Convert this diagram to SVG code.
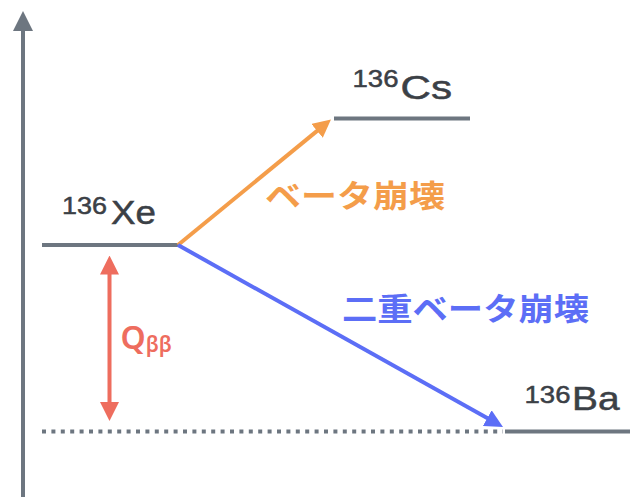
<svg xmlns="http://www.w3.org/2000/svg" width="630" height="497" viewBox="0 0 630 497">
<defs>
<style>
.lvl{stroke:#6d7680;stroke-width:4;fill:none}
.iso{font-family:"Liberation Sans",Arial,sans-serif;fill:#3b4046;stroke:#3b4046;stroke-width:0.5}
.big{font-size:33px}
.sup{font-size:24px}
.jp{font-family:"Noto Sans CJK JP","Noto Sans",sans-serif;font-size:31px;font-weight:600}
</style>
<marker id="hg" markerUnits="userSpaceOnUse" markerWidth="20" markerHeight="20" refX="8" refY="10" orient="auto"><path d="M0,0 L20,10 L0,20 z" fill="#6d7680"/></marker>
<marker id="ho" markerUnits="userSpaceOnUse" markerWidth="18" markerHeight="18" refX="6" refY="9" orient="auto"><path d="M0,0 L18,9 L0,18 z" fill="#f49d4a"/></marker>
<marker id="hb" markerUnits="userSpaceOnUse" markerWidth="18" markerHeight="18" refX="6" refY="9" orient="auto"><path d="M0,0 L18,9 L0,18 z" fill="#5c6ef6"/></marker>
<marker id="hr" markerUnits="userSpaceOnUse" markerWidth="19" markerHeight="19" refX="6" refY="9.5" orient="auto-start-reverse"><path d="M0,0 L19,9.5 L0,19 z" fill="#ee6d5e"/></marker>
</defs>
<g id="axis"><line x1="23" y1="497" x2="23" y2="23" stroke="#6d7680" stroke-width="4" marker-end="url(#hg)"/></g>
<g id="Xe">
<line class="lvl" x1="42" y1="245" x2="178" y2="245"/>
<text class="iso sup" x="62" y="213.5" textLength="45" lengthAdjust="spacingAndGlyphs">136</text>
<text class="iso big" x="111" y="224.3" textLength="45" lengthAdjust="spacingAndGlyphs">Xe</text>
</g>
<g id="Cs">
<line class="lvl" x1="334" y1="118.5" x2="470" y2="118.5"/>
<text class="iso sup" x="352.5" y="87.3" textLength="46" lengthAdjust="spacingAndGlyphs">136</text>
<text class="iso big" x="400.5" y="98.8" textLength="51.5" lengthAdjust="spacingAndGlyphs">Cs</text>
</g>
<g id="Ba">
<line class="lvl" x1="505" y1="431.5" x2="630" y2="431.5"/>
<line x1="42" y1="431.5" x2="503" y2="431.5" stroke="#6d7680" stroke-width="4" stroke-dasharray="4 5.4"/>
<text class="iso sup" x="524.5" y="402.5" textLength="46" lengthAdjust="spacingAndGlyphs">136</text>
<text class="iso big" x="572" y="409.5" textLength="47.5" lengthAdjust="spacingAndGlyphs">Ba</text>
</g>
<g id="connectors">
<line x1="178" y1="245" x2="321.7" y2="127.1" stroke="#f49d4a" stroke-width="4" marker-end="url(#ho)"/>
<line x1="178" y1="245" x2="492.5" y2="421.1" stroke="#5c6ef6" stroke-width="4" marker-end="url(#hb)"/>
<line x1="109.5" y1="268.5" x2="109.5" y2="408" stroke="#ee6d5e" stroke-width="4" marker-start="url(#hr)" marker-end="url(#hr)"/>
</g>
<g id="labels">
<text x="120.5" y="348.5" fill="#ee6d5e" font-family="'Noto Sans',sans-serif" font-size="32" font-weight="600">Q<tspan font-size="21" dy="3">ββ</tspan></text>
<text class="jp" x="265" y="207" fill="#f49d4a" textLength="180" lengthAdjust="spacingAndGlyphs">ベータ崩壊</text>
<text class="jp" x="342" y="320" fill="#5c6ef6" textLength="247" lengthAdjust="spacingAndGlyphs">二重ベータ崩壊</text>
</g>
</svg>
